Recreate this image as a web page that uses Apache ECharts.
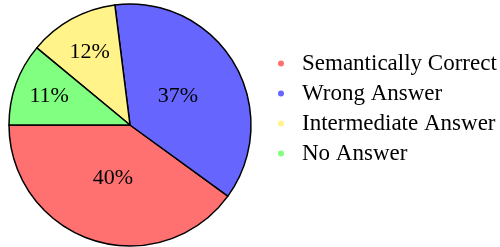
<!DOCTYPE html>
<html>
<head>
<meta charset="utf-8">
<script src="https://cdn.jsdelivr.net/npm/echarts@6/dist/echarts.min.js"></script>
<style>
html, body { margin: 0; padding: 0; background: #fff; }
#chart { width: 500px; height: 247px; }
</style>
</head>
<body>
<div id="chart"></div>
<script>
// answer categories, in legend order
var categories = ['Semantically Correct', 'Wrong Answer', 'Intermediate Answer', 'No Answer'];
var shares = [40, 37, 12, 11];
var colors = ['#ff7070', '#6666ff', '#fff38a', '#80ff80'];
// how far out each label sits, as a fraction of the radius
var labelDist = [0.46, 0.46, 0.69, 0.71];

var cx = 130, cy = 125, radius = 121;

var chart = echarts.init(document.getElementById('chart'));

var pieData = [];
for (var i = 0; i < categories.length; i++) {
  pieData.push({ name: categories[i], value: shares[i], itemStyle: { color: colors[i] } });
}

var option = {
  animation: false,
  legend: {
    orient: 'vertical',
    left: 273,
    top: 47,
    icon: 'circle',
    itemWidth: 6,
    itemHeight: 6,
    itemGap: 7,
    data: categories,
    itemStyle: { borderWidth: 0 },
    textStyle: { fontFamily: 'Liberation Serif', fontSize: 23, color: '#000', padding: [0, 0, 0, 13] }
  },
  series: [{
    type: 'pie',
    center: [cx, cy],
    radius: radius,
    startAngle: 180,
    clockwise: false,
    itemStyle: { borderColor: '#000', borderWidth: 1.5 },
    label: {
      show: true,
      position: 'inside',
      formatter: '{c}%',
      fontFamily: 'Liberation Serif',
      fontSize: 22,
      color: '#000'
    },
    labelLayout: function (params) {
      var r = params.labelRect;
      var lx = r.x + r.width / 2 - cx;
      var ly = r.y + r.height / 2 - cy;
      var d = Math.sqrt(lx * lx + ly * ly);
      var k = labelDist[params.dataIndex] * radius / d;
      return { dx: lx * (k - 1), dy: ly * (k - 1) };
    },
    labelLine: { show: false },
    emphasis: { disabled: true },
    data: pieData
  }]
};

chart.setOption(option);
</script>
</body>
</html>
